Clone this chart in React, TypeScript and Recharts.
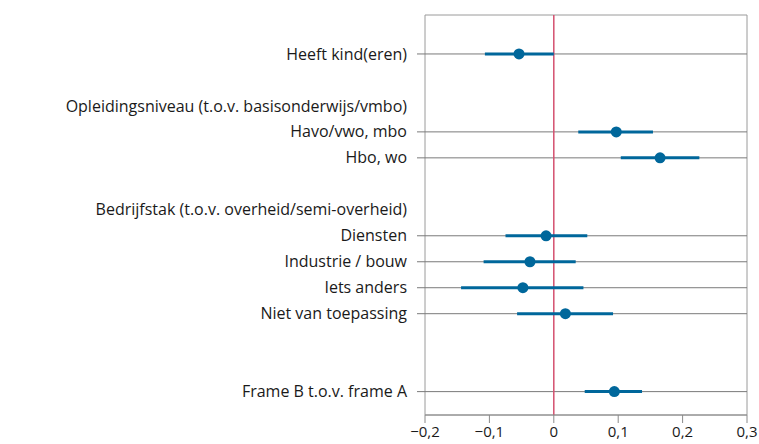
import {
  ScatterChart,
  Scatter,
  XAxis,
  YAxis,
  ErrorBar,
  ReferenceLine,
  ReferenceArea,
} from 'recharts';

// row index -> label (headers have no estimate)
const rowLabels = [
  'Heeft kind(eren)',
  '',
  'Opleidingsniveau (t.o.v. basisonderwijs/vmbo)',
  'Havo/vwo, mbo',
  'Hbo, wo',
  '',
  'Bedrijfstak (t.o.v. overheid/semi-overheid)',
  'Diensten',
  'Industrie / bouw',
  'Iets anders',
  'Niet van toepassing',
  '',
  '',
  'Frame B t.o.v. frame A',
];
const dataRows = [0, 3, 4, 7, 8, 9, 10, 13];
const estimates = [-0.054, 0.097, 0.165, -0.012, -0.037, -0.048, 0.018, 0.094];
const lower = [-0.107, 0.038, 0.104, -0.075, -0.109, -0.144, -0.057, 0.048];
const upper = [0.0, 0.154, 0.226, 0.052, 0.034, 0.046, 0.092, 0.137];
const xTicks = [-0.2, -0.1, 0, 0.1, 0.2, 0.3];

const points = dataRows.map((row, i) => ({
  row,
  est: estimates[i],
  ci: [estimates[i] - lower[i], upper[i] - estimates[i]],
}));

const labelRows = rowLabels
  .map((l, i) => (l ? i : -1))
  .filter((i) => i >= 0);

const BLUE = '#00679b';
const FONT = '"Open Sans", Lato, sans-serif';

function fmt(v: number) {
  if (v === 0) return '0';
  const s = Math.abs(v).toFixed(1).replace('.', ',');
  return v < 0 ? `\u2212${s}` : s;
}

function RowTick(props: any) {
  const { x, y, payload } = props;
  const row = payload.value;
  const isData = dataRows.includes(row);
  return (
    <g>
      {isData && (
        <line x1={x + 10} x2={x + 18} y1={y} y2={y} stroke='#7a7a7a' />
      )}
      <text
        x={x}
        y={y}
        dy='0.35em'
        textAnchor='end'
        fill='#1a1a1a'
        fontSize={16}
        fontFamily={FONT}
      >
        {rowLabels[row]}
      </text>
    </g>
  );
}

export default function App() {
  return (
    <div style={{ position: 'absolute', left: 0, top: 0, background: '#fff' }}>
      <ScatterChart
        width={759}
        height={444}
        margin={{ top: 15, right: 12, bottom: 0, left: 0 }}
      >
        <XAxis
          type='number'
          dataKey='est'
          domain={[-0.2, 0.3]}
          ticks={xTicks}
          tickFormatter={fmt}
          height={29}
          tickSize={8}
          tickMargin={3}
          stroke='#8a8a8a'
          tick={{ fill: '#1a1a1a', fontSize: 15, fontFamily: FONT }}
          interval={0}
        />
        <YAxis
          type='number'
          dataKey='row'
          domain={[-1.5, 13.9]}
          reversed
          ticks={labelRows}
          interval={0}
          width={425}
          tickSize={8}
          tickMargin={10}
          tickLine={false}
          axisLine={false}
          tick={<RowTick />}
        />
        <ReferenceArea
          x1={-0.2}
          x2={0.3}
          y1={-1.5}
          y2={13.9}
          fill='none'
          stroke='#9a9a9a'
          ifOverflow='extendDomain'
        />
        {dataRows.map((r) => (
          <ReferenceLine key={r} y={r} stroke='#7a7a7a' />
        ))}
        <ReferenceLine x={0} stroke='#d4506f' strokeWidth={1.5} />
        <Scatter
          data={points}
          fill={BLUE}
          isAnimationActive={false}
          shape={(p: any) => <circle cx={p.cx} cy={p.cy} r={5.5} fill={BLUE} />}
        >
          <ErrorBar
            dataKey='ci'
            direction='x'
            width={0}
            stroke={BLUE}
            strokeWidth={3}
            isAnimationActive={false}
          />
        </Scatter>
      </ScatterChart>
    </div>
  );
}
